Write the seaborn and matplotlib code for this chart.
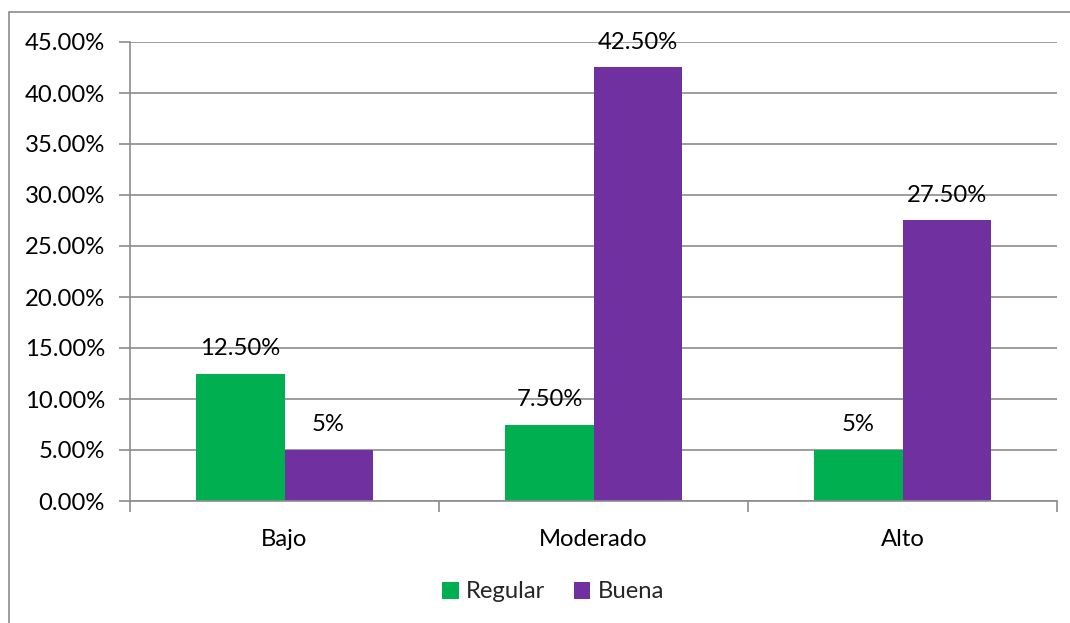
import matplotlib
matplotlib.use("Agg")
import matplotlib.pyplot as plt
import seaborn as sns
import pandas as pd
from matplotlib.patches import Rectangle, Patch

categories = ["Bajo", "Moderado", "Alto"]
series_names = ["Regular", "Buena"]
regular = [12.5, 7.5, 5.0]
buena = [5.0, 42.5, 27.5]
regular_labels = ["12.50%", "7.50%", "5%"]
buena_labels = ["5%", "42.50%", "27.50%"]
yticks = [0, 5, 10, 15, 20, 25, 30, 35, 40, 45]
ytick_labels = ["0.00%", "5.00%", "10.00%", "15.00%", "20.00%", "25.00%",
                "30.00%", "35.00%", "40.00%", "45.00%"]
colors = ["#00B050", "#7030A0"]

df = pd.DataFrame({
    "cat": categories * 2,
    "serie": [series_names[0]] * 3 + [series_names[1]] * 3,
    "val": regular + buena,
})

sns.set_theme(style="white")
plt.rcParams["font.family"] = ["Lato", "DejaVu Sans"]

FS = 17.2

fig = plt.figure(figsize=(10.70, 6.23), dpi=100)
ax = fig.add_axes([130 / 1070, 1 - 501 / 623, (1057 - 130) / 1070, (501 - 42) / 623])

sns.barplot(data=df, x="cat", y="val", hue="serie", palette=colors,
            width=0.57, ax=ax, saturation=1, legend=False, linewidth=0)

ax.set_ylim(0, 45)
ax.set_xlim(-0.5, 2.5)
ax.set_yticks(yticks)
ax.set_yticklabels(ytick_labels, fontsize=FS, color="black")
ax.set_xticks([0, 1, 2])
ax.set_xticklabels(categories, fontsize=FS, color="black")
ax.set_xlabel("")
ax.set_ylabel("")
ax.yaxis.grid(True, color="#8c8c8c", linewidth=1.2)
ax.set_axisbelow(True)

for s in ["top", "right"]:
    ax.spines[s].set_visible(False)
for s in ["left", "bottom"]:
    ax.spines[s].set_color("#8c8c8c")
    ax.spines[s].set_linewidth(1.2)

ax.tick_params(axis="y", length=8, width=1.2, color="#8c8c8c", left=True, pad=10)
ax.tick_params(axis="x", length=0, pad=20)
# category separator ticks
ax.set_xticks([-0.5, 0.5, 1.5, 2.5], minor=True)
ax.tick_params(axis="x", which="minor", length=8, width=1.2, color="#8c8c8c", bottom=True)

containers = ax.containers
for cont, labels in zip(containers, [regular_labels, buena_labels]):
    ax.bar_label(cont, labels=labels, padding=10.5, fontsize=FS, color="black")

handles = [Patch(facecolor=c, edgecolor="none") for c in colors]
fig.legend(handles, series_names, loc="center", bbox_to_anchor=(553 / 1070, 1 - 592 / 623),
           ncol=2, frameon=False, fontsize=FS, handlelength=0.7, handleheight=0.7,
           handletextpad=0.3, columnspacing=1.2)

fig.patches.append(Rectangle((9 / 1070, -0.1), 1.2, 1.1 - 12 / 623,
                             transform=fig.transFigure, fill=False,
                             edgecolor="#8c8c8c", linewidth=1.2))

fig.savefig("out.png", dpi=100)
